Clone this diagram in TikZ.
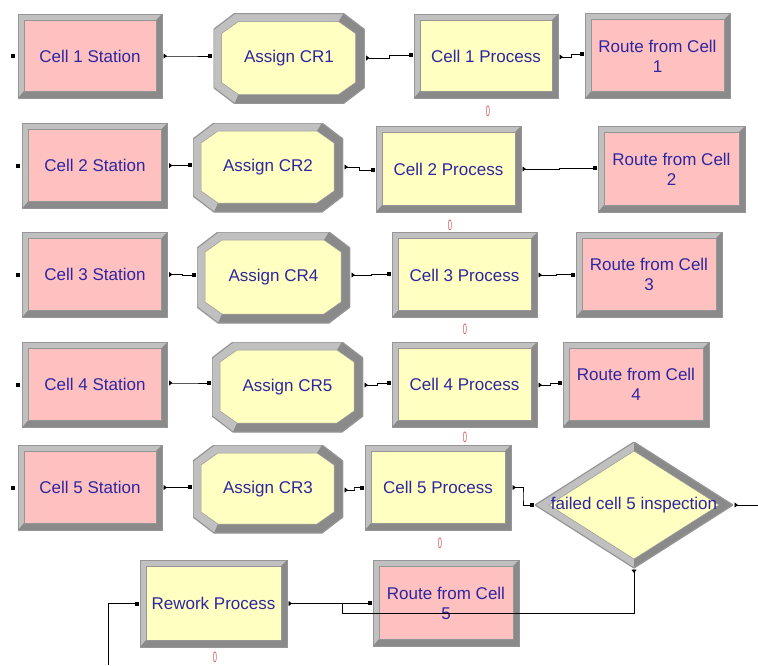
\documentclass[tikz,border=0pt]{standalone}
\usepackage{fontspec}
\setmainfont{Liberation Sans}
\usetikzlibrary{calc,arrows.meta}
\definecolor{pinkc}{RGB}{255,192,192}
\definecolor{yelc}{RGB}{255,255,194}
\definecolor{bevl}{RGB}{192,192,192}
\definecolor{bevd}{RGB}{138,138,138}
\definecolor{bevo}{RGB}{150,150,150}
\definecolor{txtc}{RGB}{46,38,160}
\definecolor{zeroc}{RGB}{210,96,96}
\tikzset{
  mod/.style={rectangle, inner sep=0pt, outer sep=1.5pt, text=txtc, align=center,
    font=\fontsize{17}{20}\selectfont},
  rbox/.style={mod, minimum width=145pt, minimum height=85pt, draw=bevo, line width=0.8pt,
    path picture={
      \path (path picture bounding box.south west) coordinate (bsw)
            (path picture bounding box.north east) coordinate (bne)
            (path picture bounding box.south east) coordinate (bse);
      \fill[bevl] (bsw) rectangle (bne);
      \fill[bevd] (bsw) -- (bse) -- (bne)
        -- ([shift={(-6pt,-6pt)}]bne) -- ([shift={(-6pt,7pt)}]bse)
        -- ([shift={(6pt,7pt)}]bsw) -- cycle;
      \fill[#1, draw=bevo, line width=0.5pt] ([shift={(6pt,7pt)}]bsw)
        rectangle ([shift={(-6pt,-6pt)}]bne);
    }},
  octbox/.style={mod, fill=white, minimum width=150pt, minimum height=89pt,
    path picture={
      \path (path picture bounding box.south west) coordinate (bsw)
            (path picture bounding box.north east) coordinate (bne)
            (path picture bounding box.south east) coordinate (bse)
            (path picture bounding box.north west) coordinate (bnw);
      \path ([xshift=21pt]bnw) coordinate (oqa)
            ([xshift=-21pt]bne) coordinate (oqb)
            ([yshift=-16pt]bne) coordinate (oqc)
            ([yshift=16pt]bse) coordinate (oqd)
            ([xshift=-21pt]bse) coordinate (oqe)
            ([xshift=21pt]bsw) coordinate (oqf)
            ([yshift=16pt]bsw) coordinate (oqg)
            ([yshift=-16pt]bnw) coordinate (oqh);
      \path ([shift={(25pt,-8pt)}]bnw) coordinate (iqa)
            ([shift={(-26pt,-8pt)}]bne) coordinate (iqb)
            ([shift={(-9pt,-20pt)}]bne) coordinate (iqc)
            ([shift={(-9pt,21pt)}]bse) coordinate (iqd)
            ([shift={(-26pt,9pt)}]bse) coordinate (iqe)
            ([shift={(25pt,9pt)}]bsw) coordinate (iqf)
            ([shift={(8pt,21pt)}]bsw) coordinate (iqg)
            ([shift={(8pt,-20pt)}]bnw) coordinate (iqh);
      \fill[bevl] (oqa)--(oqb)--(oqc)--(oqd)--(oqe)--(oqf)--(oqg)--(oqh)--cycle;
      \fill[bevd] (oqb)--(oqc)--(oqd)--(oqe)--(oqf)--(iqf)--(iqe)--(iqd)--(iqc)--(iqb)--cycle;
      \draw[bevo, line width=1.2pt] (oqa)--(oqb)--(oqc)--(oqd)--(oqe)--(oqf)--(oqg)--(oqh)--cycle;
      \fill[#1, draw=bevo, line width=0.5pt] (iqa)--(iqb)--(iqc)--(iqd)--(iqe)--(iqf)--(iqg)--(iqh)--cycle;
    }},
  diabox/.style={mod, fill=white, minimum width=198pt, minimum height=126pt,
    path picture={
      \path (path picture bounding box.north) coordinate (bn)
            (path picture bounding box.east) coordinate (be)
            (path picture bounding box.south) coordinate (bs)
            (path picture bounding box.west) coordinate (bw);
      \path ([yshift=-9pt]bn) coordinate (dqn)
            ([xshift=-14pt]be) coordinate (dqe)
            ([yshift=9pt]bs) coordinate (dqs)
            ([xshift=14pt]bw) coordinate (dqw);
      \fill[bevl] (bn)--(be)--(bs)--(bw)--cycle;
      \fill[bevd] (bn)--(be)--(bs)--(dqs)--(dqe)--(dqn)--cycle;
      \draw[bevo, line width=1.2pt] (bn)--(be)--(bs)--(bw)--cycle;
      \fill[#1, draw=bevo, line width=0.5pt] (dqn)--(dqe)--(dqs)--(dqw)--cycle;
    }},
  zero/.style={inner sep=0pt, text=zeroc, font=\fontsize{15}{15}\selectfont},
  conn/.style={line width=0.9pt, black,
    {Triangle[reversed,length=3.5pt,width=5pt]}-{Square[length=4pt,width=4pt]}},
  connin/.style={line width=0.9pt, black, -{Square[length=4pt,width=4pt]}},
  connout/.style={line width=0.9pt, black, {Triangle[reversed,length=3.5pt,width=5pt]}-},
  kink/.style={to path={-| ($(\tikztostart)!0.5!(\tikztotarget)$) |- (\tikztotarget)}},
  entrysq/.style={fill=black}
}
\newcommand{\zerolab}{\scalebox{0.5}[1]{0}}
\begin{document}
\begin{tikzpicture}[x=1pt,y=-1pt]
\useasboundingbox (0,0) rectangle (758,665);

% row 1
\node[rbox=pinkc, minimum width=144pt, minimum height=84pt] (s1) at (90,56) {Cell 1 Station};
\node[octbox=yelc, minimum width=151pt, minimum height=90pt] (a1) at (289,58.5) {Assign CR1};
\node[rbox=yelc, minimum width=144pt, minimum height=84pt] (p1) at (486,56) {Cell 1 Process};
\node[rbox=pinkc] (r1) at (657.5,56) {Route from Cell\\1};
\node[zero] (z1) at (488,111) {\zerolab};

% row 2
\node[rbox=pinkc] (s2) at (95,165.5) {Cell 2 Station};
\node[octbox=yelc] (a2) at (268,167.5) {Assign CR2};
\node[rbox=yelc, minimum height=86pt] (p2) at (448.5,169) {Cell 2 Process};
\node[rbox=pinkc, minimum width=147pt, minimum height=86pt] (r2) at (671.5,169) {Route from Cell\\2};
\node[zero] (z2) at (450,225) {\zerolab};

% row 3
\node[rbox=pinkc] (s3) at (95,274.5) {Cell 3 Station};
\node[octbox=yelc, minimum width=153pt, minimum height=91pt] (a4) at (273.5,277.5) {Assign CR4};
\node[rbox=yelc] (p3) at (464.5,275) {Cell 3 Process};
\node[rbox=pinkc, minimum width=146pt] (r3) at (649,274.5) {Route from Cell\\3};
\node[zero] (z3) at (465,329) {\zerolab};

% row 4
\node[rbox=pinkc] (s4) at (95,384.5) {Cell 4 Station};
\node[octbox=yelc, minimum width=151pt, minimum height=90pt] (a5) at (287.5,387) {Assign CR5};
\node[rbox=yelc] (p4) at (464.5,384.5) {Cell 4 Process};
\node[rbox=pinkc, minimum width=146pt] (r4) at (636,384.5) {Route from Cell\\4};
\node[zero] (z4) at (465,437) {\zerolab};

% row 5
\node[rbox=pinkc, minimum width=144pt] (s5) at (90,487.5) {Cell 5 Station};
\node[octbox=yelc, minimum height=88pt] (a3) at (268,489) {Assign CR3};
\node[rbox=yelc, minimum width=146pt] (p5) at (438,487.5) {Cell 5 Process};
\node[diabox=yelc] (dia) at (634,505) {failed cell 5 inspection};
\node[zero] (z5) at (440,543) {\zerolab};

% row 6
\node[rbox=yelc, minimum width=147pt, minimum height=87pt] (rw) at (213.5,603.5) {Rework Process};
\node[rbox=pinkc, minimum width=146pt, minimum height=86pt] (r5) at (446,603) {Route from Cell\\5};
\node[zero] (z6) at (215,657) {\zerolab};

% entry points of stations
\foreach \s in {s1,s2,s3,s4,s5}
  \fill[entrysq] ([xshift=-5.5pt,yshift=-2pt]\s.west) rectangle ++(4pt,4pt);

% connectors
\draw[conn] (s1.east) to[kink] ([yshift=2.5pt]a1.west);
\draw[conn] ([yshift=0.5pt]a1.east) to[kink] ([yshift=1pt]p1.west);
\draw[conn] ([yshift=-1pt]p1.east) to[kink] ([yshift=2pt]r1.west);

\draw[conn] (s2.east) to[kink] ([yshift=2.5pt]a2.west);
\draw[conn] ([yshift=0.5pt]a2.east) to[kink] ([yshift=-1pt]p2.west);
\draw[conn] (p2.east) to[kink] ([yshift=1pt]r2.west);

\draw[conn] (s3.east) to[kink] ([yshift=2.5pt]a4.west);
\draw[conn] ([yshift=2.5pt]a4.east) to[kink] ([yshift=1pt]p3.west);
\draw[conn] (p3.east) to[kink] (r3.west);

\draw[conn] ([yshift=1.5pt]s4.east) to[kink] ([yshift=4pt]a5.west);
\draw[conn] ([yshift=2pt]a5.east) to[kink] ([yshift=1.5pt]p4.west);
\draw[conn] ([yshift=-0.5pt]p4.east) to[kink] ([yshift=1.5pt]r4.west);

\draw[conn] (s5.east) to[kink] ([yshift=2pt]a3.west);
\draw[conn] ([yshift=-1pt]a3.east) to[kink] (p5.west);
\coordinate (outd) at (758,505);
\draw[connout] (dia.east) -- (outd);
\draw[conn] (p5.east) to[kink] (dia.west);

\coordinate (bend) at (342,613);
\draw[conn] (dia.south) |- (bend) |- (r5.west);
\draw[conn] (rw.east) to[kink] (r5.west);
\coordinate (rwin) at (108,665);
\draw[connin] (rwin) |- (rw.west);
\end{tikzpicture}
\end{document}
